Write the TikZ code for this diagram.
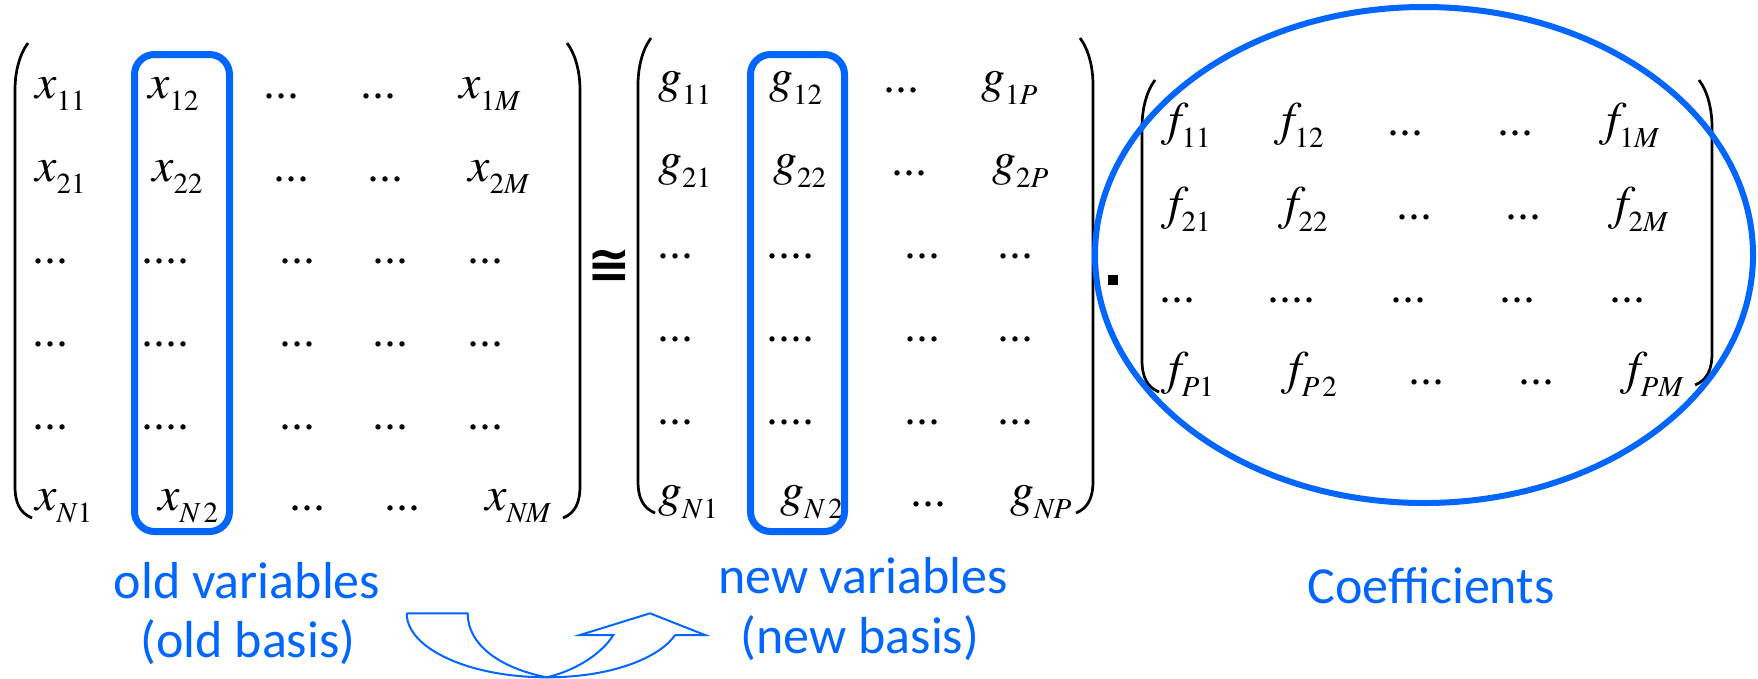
\documentclass[tikz,border=0pt]{standalone}
\usepackage{fontspec}
\newfontfamily\tnr{texgyretermes-regular.otf}[ItalicFont=texgyretermes-italic.otf]
\newfontfamily\calfont{Carlito}
\newfontfamily\djv{DejaVu Sans}
\definecolor{pblue}{RGB}{0,102,255}
\newcommand{\me}[2]{{\tnr\itshape #1}\raisebox{-12pt}{\tnr\fontsize{29}{30}\selectfont #2}}
\newcommand{\mylp}[3]{\draw[parenline] ({#1+13},#2) .. controls ({#1+4},{#2+12}) and (#1,{#2+30}) .. (#1,{#2+47}) -- (#1,{#3-32}) .. controls (#1,{#3-15}) and ({#1+5},{#3-5}) .. ({#1+17},#3);}
\newcommand{\myrp}[3]{\draw[parenline] ({#1-13},#2) .. controls ({#1-4},{#2+12}) and (#1,{#2+30}) .. (#1,{#2+47}) -- (#1,{#3-32}) .. controls (#1,{#3-15}) and ({#1-5},{#3-5}) .. ({#1-17},#3);}
\tikzset{
  ent/.style={anchor=base west, inner sep=0pt, font=\tnr\fontsize{48}{56}\selectfont},
  lab/.style={anchor=base, inner sep=0pt, text=pblue, font=\calfont\fontsize{52}{60}\selectfont},
  parenline/.style={line width=2.7pt, black},
  colbox/.style={draw=pblue, line width=7pt, rounded corners=20pt},
  arrowline/.style={draw=pblue, line width=2pt, line join=miter}
}
\begin{document}
\begin{tikzpicture}[x=1pt,y=-1pt]
\useasboundingbox (0,0) rectangle (1758,678);
% ---- left matrix
\node[ent] (x11) at (35,98) {\me{x}{11}};
\node[ent] (x12) at (148,98) {\me{x}{12}};
\node[ent] (x13) at (263,98) {...};
\node[ent] (x14) at (360,98) {...};
\node[ent] (x15) at (459,98) {\me{x}{1\textit{M}}};
\node[ent] (x21) at (35,181) {\me{x}{21}};
\node[ent] (x22) at (152,181) {\me{x}{22}};
\node[ent] (x23) at (273,181) {...};
\node[ent] (x24) at (367,181) {...};
\node[ent] (x25) at (468,181) {\me{x}{2\textit{M}}};
\foreach \r/\y in {3/263,4/346,5/429}{
  \node[ent] (x\r1) at (32,\y) {...};
  \node[ent] (x\r2) at (141,\y) {....};
  \node[ent] (x\r3) at (279,\y) {...};
  \node[ent] (x\r4) at (372,\y) {...};
  \node[ent] (x\r5) at (467,\y) {...};
}
\node[ent] (x61) at (35,510) {\me{x}{\textit{N}1}};
\node[ent] (x62) at (158,510) {\me{x}{\textit{N}\kern3pt2}};
\node[ent] (x63) at (289,510) {...};
\node[ent] (x64) at (384,510) {...};
\node[ent] (x65) at (485,510) {\me{x}{\textit{NM}}};
% ---- middle matrix
\node[ent] (g11) at (658,92) {\me{g}{11}};
\node[ent] (g12) at (769,92) {\me{g}{12}};
\node[ent] (g13) at (883,92) {...};
\node[ent] (g14) at (981,92) {\me{g}{1\textit{P}}};
\node[ent] (g21) at (658,175) {\me{g}{21}};
\node[ent] (g22) at (773,175) {\me{g}{22}};
\node[ent] (g23) at (891,175) {...};
\node[ent] (g24) at (992,175) {\me{g}{2\textit{P}}};
\foreach \r/\y in {3/258,4/341,5/424}{
  \node[ent] (g\r1) at (657,\y) {...};
  \node[ent] (g\r2) at (766,\y) {....};
  \node[ent] (g\r3) at (904,\y) {...};
  \node[ent] (g\r4) at (997,\y) {...};
}
\node[ent] (g61) at (658,506) {\me{g}{\textit{N}1}};
\node[ent] (g62) at (780,506) {\me{g}{\textit{N}\kern3pt2}};
\node[ent] (g63) at (910,506) {...};
\node[ent] (g64) at (1010,506) {\me{g}{\textit{NP}}};
% ---- right matrix
\node[ent] (f11) at (1168,135) {\me{f}{11}};
\node[ent] (f12) at (1281,135) {\me{f}{12}};
\node[ent] (f13) at (1387,135) {...};
\node[ent] (f14) at (1497,135) {...};
\node[ent] (f15) at (1606,135) {\me{f}{1\textit{M}}};
\node[ent] (f21) at (1168,219) {\me{f}{21}};
\node[ent] (f22) at (1285,219) {\me{f}{22}};
\node[ent] (f23) at (1396,219) {...};
\node[ent] (f24) at (1505,219) {...};
\node[ent] (f25) at (1615,219) {\me{f}{2\textit{M}}};
\node[ent] (f31) at (1159,302) {...};
\node[ent] (f32) at (1267,302) {....};
\node[ent] (f33) at (1390,302) {...};
\node[ent] (f34) at (1499,302) {...};
\node[ent] (f35) at (1609,302) {...};
\node[ent] (f41) at (1168,384) {\me{f}{\textit{P}1}};
\node[ent] (f42) at (1288,384) {\me{f}{\textit{P}\kern3pt2}};
\node[ent] (f43) at (1408,384) {...};
\node[ent] (f44) at (1518,384) {...};
\node[ent] (f45) at (1627,384) {\me{f}{\textit{PM}}};
% ---- parentheses
\mylp{15}{43}{518}
\myrp{580}{43}{518}
\mylp{638}{38}{513}
\myrp{1093}{38}{513}
\mylp{1142}{80}{392}
\myrp{1712}{80}{385}
% ---- operators
\node[anchor=base, inner sep=0pt, font=\djv\bfseries\fontsize{52}{60}\selectfont] (cong) at (609.5,282) {≅};
\node[fill=black, inner sep=0pt, minimum size=10pt] (mul) at (1113,280) {};
% ---- highlights
\draw[colbox] (134.5,54.5) rectangle (229.5,531.5);
\draw[colbox] (750.5,54.5) rectangle (844.5,531.5);
\draw[pblue, line width=6pt] (1424,255) ellipse [x radius=329pt, y radius=248pt];
% ---- labels
\node[lab] (oldv) at (247,598) {old variables};
\node[lab] (oldb) at (248,657) {(old basis)};
\node[lab] (newv) at (863,593) {new variables};
\node[lab] (newb) at (860,653) {(new basis)};
\node[lab] (coef) at (1431,603) {Coefficients};
% ---- curved arrow
\draw[arrowline] (406.7,613.3) .. controls (406.7,648.6) and (469.4,677.3) .. (546.7,677.3)
  .. controls (617,677.3) and (662,655) .. (675,635);
\draw[arrowline] (406.7,613.3) -- (467.7,613.3) .. controls (467.7,645) and (500,668) .. (546.7,677.3);
\draw[arrowline] (546.7,677.3) .. controls (578,670) and (603,652) .. (613.3,635) -- (580,635) -- (650,613.3) -- (705,635) -- (675,635);
\end{tikzpicture}
\end{document}
